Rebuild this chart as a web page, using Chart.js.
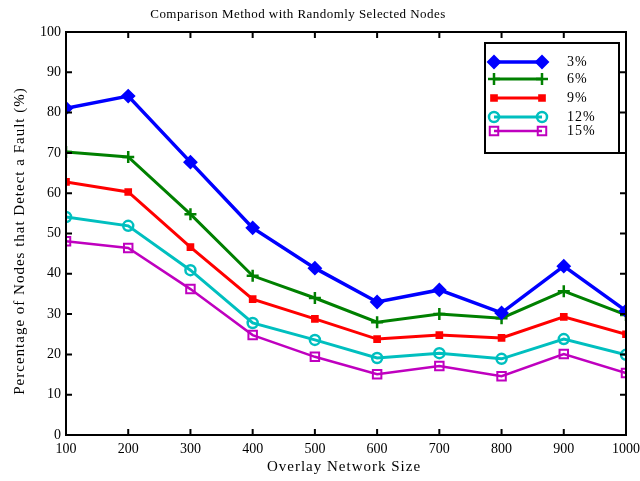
<!DOCTYPE html>
<html>
<head>
<meta charset="utf-8">
<script src="https://cdn.jsdelivr.net/npm/chart.js@4/dist/chart.umd.min.js"></script>
<style>
html,body{margin:0;padding:0;background:#fff;}
#wrap{width:640px;height:481px;}
</style>
</head>
<body>
<div id="wrap"><canvas id="c" width="640" height="481"></canvas></div>
<script>
const networkSizes = [100, 200, 300, 400, 500, 600, 700, 800, 900, 1000];
const pct3  = [81.1, 84.1, 67.7, 51.4, 41.4, 33.0, 36.0, 30.3, 41.9, 30.8];
const pct6  = [70.2, 69.0, 54.8, 39.5, 34.0, 28.0, 30.0, 29.0, 35.7, 29.8];
const pct9  = [62.8, 60.3, 46.6, 33.7, 28.8, 23.8, 24.8, 24.1, 29.3, 25.0];
const pct12 = [54.1, 51.9, 40.9, 27.8, 23.6, 19.1, 20.3, 18.9, 23.8, 19.9];
const pct15 = [48.1, 46.4, 36.2, 24.8, 19.4, 15.1, 17.1, 14.6, 20.1, 15.4];
const seriesLabels = ['3%', '6%', '9%', '12%', '15%'];
const yTicks = [0, 10, 20, 30, 40, 50, 60, 70, 80, 90, 100];
const titleText = 'Comparison Method with Randomly Selected Nodes';
const xTitle = 'Overlay Network Size';
const yTitle = 'Percentage of Nodes that Detect a Fault (%)';

const FONT = '"Liberation Serif", "Times New Roman", serif';

function pts(arr){ return networkSizes.map((x,i)=>({x:x, y:arr[i]})); }

const styles = [
  {color:'#0000ff', style:'rectRot', r:6, fill:true, bw:3.5, pbw:2},
  {color:'#008000', style:'cross', r:6, fill:false, bw:3, pbw:2.5},
  {color:'#ff0000', style:'rect', r:4, fill:true, bw:3, pbw:2},
  {color:'#00bfbf', style:'circle', r:5, fill:false, bw:3, pbw:2.5},
  {color:'#bf00bf', style:'rect', r:6, fill:false, bw:2.5, pbw:2}
];
const allSeries = [pct3, pct6, pct9, pct12, pct15];

const datasets = allSeries.map((arr,i)=>({
  label: seriesLabels[i],
  data: pts(arr),
  borderColor: styles[i].color,
  backgroundColor: styles[i].fill ? styles[i].color : 'rgba(255,255,255,0)',
  borderWidth: styles[i].bw,
  pointStyle: styles[i].style,
  pointRadius: styles[i].r,
  pointBorderWidth: styles[i].pbw,
  pointBorderColor: styles[i].color,
  pointBackgroundColor: styles[i].fill ? styles[i].color : 'rgba(255,255,255,0)',
  tension: 0
}));

function spacedText(ctx, text, x, y, spacing){
  if ('letterSpacing' in ctx) {
    ctx.letterSpacing = spacing + 'px';
    ctx.fillText(text, x, y);
    ctx.letterSpacing = '0px';
  } else {
    ctx.fillText(text, x, y);
  }
}

const framePlugin = {
  id: 'frame',
  afterDatasetsDraw(chart){
    const ctx = chart.ctx;
    const a = chart.chartArea;
    const xs = chart.scales.x, ys = chart.scales.y;
    ctx.save();
    ctx.strokeStyle = '#000';
    ctx.lineWidth = 2;
    ctx.strokeRect(a.left, a.top, a.right - a.left, a.bottom - a.top);
    const tl = 6;
    ctx.beginPath();
    networkSizes.forEach(v=>{
      const px = xs.getPixelForValue(v);
      ctx.moveTo(px, a.bottom); ctx.lineTo(px, a.bottom - tl);
      ctx.moveTo(px, a.top); ctx.lineTo(px, a.top + tl);
    });
    yTicks.forEach(v=>{
      const py = ys.getPixelForValue(v);
      ctx.moveTo(a.left, py); ctx.lineTo(a.left + tl, py);
      ctx.moveTo(a.right, py); ctx.lineTo(a.right - tl, py);
    });
    ctx.stroke();

    // legend
    const lx = a.right - 141, ly = a.top + 11, lw = 134, lh = 110;
    ctx.fillStyle = '#fff';
    ctx.fillRect(lx, ly, lw, lh);
    ctx.lineWidth = 2;
    ctx.strokeStyle = '#000';
    ctx.strokeRect(lx, ly, lw, lh);
    const rowsY = [19, 36, 55, 74, 88];
    chart.data.datasets.forEach((ds,i)=>{
      const y = ly + rowsY[i];
      const x1 = lx + 9, x2 = lx + 57;
      ctx.strokeStyle = ds.borderColor;
      ctx.lineWidth = ds.borderWidth;
      ctx.beginPath(); ctx.moveTo(x1,y); ctx.lineTo(x2,y); ctx.stroke();
      const opts = {pointStyle: ds.pointStyle, radius: ds.pointRadius, borderWidth: ds.pointBorderWidth, rotation:0};
      ctx.fillStyle = ds.pointBackgroundColor;
      ctx.strokeStyle = ds.pointBorderColor;
      ctx.lineWidth = ds.pointBorderWidth;
      Chart.helpers.drawPoint(ctx, opts, x1, y);
      Chart.helpers.drawPoint(ctx, opts, x2, y);
      ctx.fillStyle = '#000';
      ctx.font = '14px ' + FONT;
      ctx.textAlign = 'left';
      ctx.textBaseline = 'middle';
      spacedText(ctx, ds.label, lx + 82, y, 1);
    });

    // title
    ctx.fillStyle = '#000';
    ctx.font = '13px ' + FONT;
    ctx.textAlign = 'center';
    ctx.textBaseline = 'middle';
    spacedText(ctx, titleText, 298, 15, 0.45);

    // x title
    ctx.font = '15px ' + FONT;
    spacedText(ctx, xTitle, 344, 467, 1);

    // y title
    ctx.save();
    ctx.translate(20, 241);
    ctx.rotate(-Math.PI/2);
    ctx.font = '15px ' + FONT;
    spacedText(ctx, yTitle, 0, 0, 1);
    ctx.restore();

    ctx.restore();
  }
};

new Chart(document.getElementById('c'), {
  type: 'line',
  data: { datasets },
  options: {
    responsive: false,
    animation: false,
    devicePixelRatio: 1,
    layout: { padding: { top: 32, right: 14, left: 0, bottom: 0 } },
    plugins: { legend: { display: false }, title: { display: false }, tooltip: { enabled: false } },
    scales: {
      x: {
        type: 'linear', min: 100, max: 1000,
        afterFit(s){ s.height = 46; s.paddingLeft = 0; s.paddingRight = 0; },
        grid: { display: false, drawTicks: false },
        border: { display: false },
        ticks: { stepSize: 100, color: '#000', padding: 6, font: { family: FONT, size: 14 }, maxRotation: 0, autoSkip: false,
                 callback: (v)=>String(v) },
        title: { display: false }
      },
      y: {
        min: 0, max: 100,
        afterFit(s){ s.width = 66; s.paddingTop = 0; s.paddingBottom = 0; },
        grid: { display: false, drawTicks: false },
        border: { display: false },
        ticks: { stepSize: 10, color: '#000', padding: 5, font: { family: FONT, size: 14 }, callback: (v)=>String(v) },
        title: { display: false }
      }
    }
  },
  plugins: [framePlugin]
});
</script>
</body>
</html>
